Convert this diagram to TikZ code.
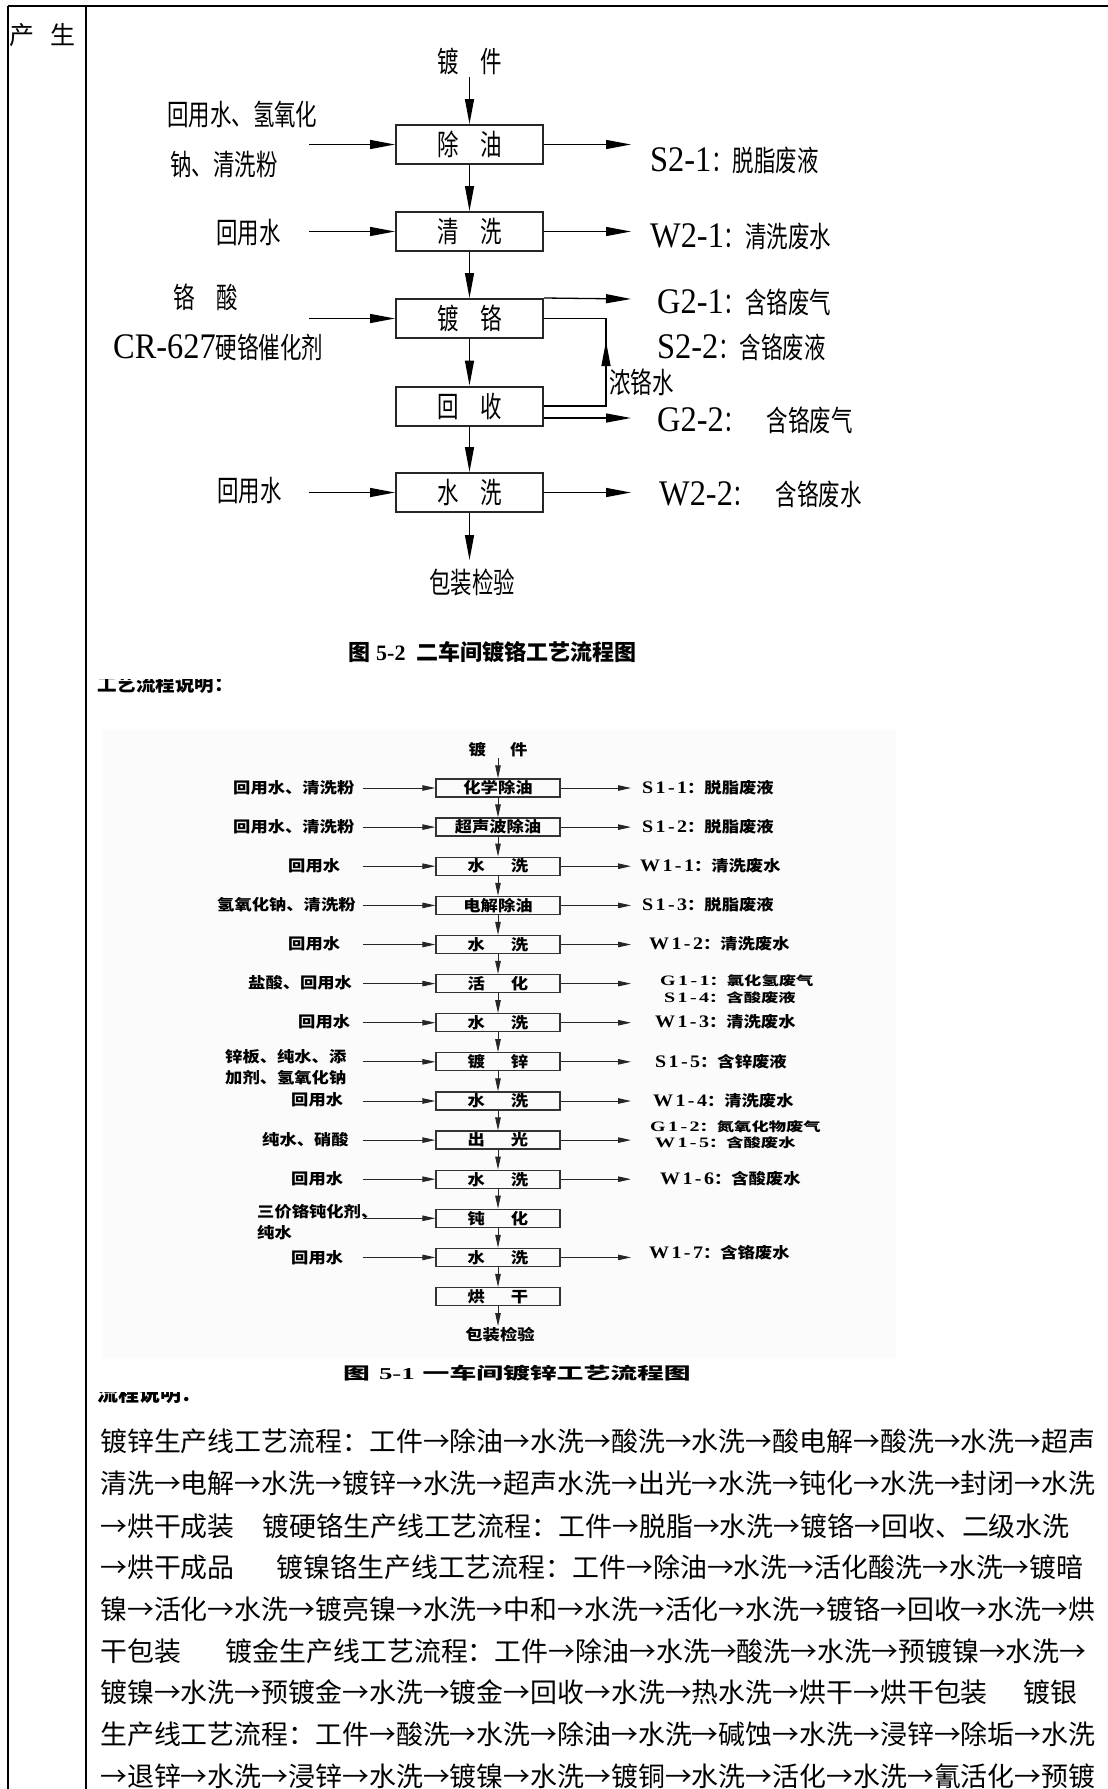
\documentclass[tikz,border=0pt]{standalone}
\usepackage{fontspec}
\usepackage{graphicx}
\usetikzlibrary{arrows.meta,decorations.markings}
\setmainfont{Noto Sans CJK SC}
\newfontfamily\tms{Liberation Serif}
\newfontfamily\tmsw{Liberation Serif}[LetterSpace=12]
\newcommand\Tc[1]{\scalebox{0.74}[1]{\fontsize{29}{29}\selectfont #1}}
\newcommand\Tl[1]{\scalebox{0.9}[1]{\fontsize{36}{36}\selectfont\tms #1}}
\newcommand\Fc[1]{\scalebox{1}[0.88]{\fontsize{17.3}{17.3}\selectfont\bfseries #1}}
\newcommand\Fl[1]{\scalebox{1}[0.88]{\fontsize{20}{20}\selectfont\tmsw\bfseries #1}}
\newcommand\Fcs[1]{\scalebox{1}[0.72]{\fontsize{17.3}{17.3}\selectfont\bfseries #1}}
\newcommand\Fls[1]{\scalebox{1}[0.72]{\fontsize{20}{20}\selectfont\tmsw\bfseries #1}}
\tikzset{
  lab/.style={inner sep=0pt, anchor=base west},
  labc/.style={inner sep=0pt, anchor=base},
  boxa/.style={draw=black!85, line width=2pt, minimum width=147pt, minimum height=39pt, inner sep=0pt},
  arra/.style={-{Triangle[length=25pt,width=9pt]}, line width=1.3pt},
  boxb/.style={draw=black!80, line width=1.3pt, minimum width=124pt, minimum height=18pt, inner sep=0pt},
  arrb/.style={-{Triangle[length=13pt,width=5.5pt]}, line width=0.9pt, draw=black!85},
  body/.style={inner sep=0pt, anchor=base west, font=\fontsize{26.9}{26.9}\selectfont},
}
\begin{document}
\begin{tikzpicture}[x=1pt,y=-1pt]
\useasboundingbox (0,0) rectangle (1108,1789);
% table frame
\draw[line width=2pt] (8,6) -- (1108,6);
\draw[line width=1.4pt] (8,6) -- (8,1789);
\draw[line width=1.2pt] (86,6) -- (86,1789);
\node[lab] (cs) at (9,44) {\fontsize{25}{25}\selectfont 产\hspace{16pt}生};

% ---------------- Fig 5-2 ----------------
\node[labc] (jja) at (470,72) {\Tc{镀　件}};
\node[boxa] (a) at (469.5,144.5) {\Tc{除　油}};
\node[boxa] (b) at (469.5,231.5) {\Tc{清　洗}};
\node[boxa] (c) at (469.5,318.5) {\Tc{镀　铬}};
\node[boxa] (d) at (469.5,406) {\Tc{回　收}};
\node[boxa] (e) at (469.5,492.5) {\Tc{水　洗}};
\coordinate (jjs) at (469.5,77);
\draw[arra] (jjs) -- (a.north);
\draw[arra] (a.south) -- (b.north);
\draw[arra] (b.south) -- (c.north);
\draw[arra] (c.south) -- (d.north);
\draw[arra] (d.south) -- (e.north);
\coordinate (bze) at (469.5,560);
\draw[arra] (e.south) -- (bze);
\node[labc] (bza) at (472,593) {\Tc{包装检验}};

% inputs
\node[lab] (la1) at (167,125) {\Tc{回用水、氢氧化}};
\node[lab] (la2) at (170,175) {\Tc{钠、清洗粉}};
\coordinate (ia) at (309,144.5);
\draw[arra] (ia) -- (a.west);
\node[lab] (lb) at (216,243) {\Tc{回用水}};
\coordinate (ib) at (309,231.5);
\draw[arra] (ib) -- (b.west);
\node[lab] (lc1) at (173,308) {\Tc{铬　酸}};
\node[lab] (lc2) at (113,358) {\Tl{CR-627}\Tc{硬铬催化剂}};
\coordinate (ic) at (309,318.5);
\draw[arra] (ic) -- (c.west);
\node[lab] (le) at (217,501) {\Tc{回用水}};
\coordinate (ie) at (309,492.5);
\draw[arra] (ie) -- (e.west);

% outputs
\coordinate (oa) at (631,144.5);
\draw[arra] (a.east) -- (oa);
\node[lab] (ra) at (650,171) {\Tl{S2-1}\Tc{：脱脂废液}};
\coordinate (ob) at (631,231.5);
\draw[arra] (b.east) -- (ob);
\node[lab] (rb) at (650,247) {\Tl{W2-1}\Tc{：清洗废水}};
\coordinate (oc) at (631,299);
\draw[arra] (c.north east) -- (oc);
\node[lab] (rc1) at (657,313) {\Tl{G2-1}\Tc{：含铬废气}};
\node[lab] (rc2) at (657,358) {\Tl{S2-2}\Tc{：含铬废液}};
\coordinate (rt) at (606,406);
\draw[line width=1.3pt, postaction={decorate}, decoration={markings, mark=at position 0.6 with {\arrow{Triangle[length=25pt,width=9pt]}}}]
  (d.east) -- (rt) -- (rt |- c.east) -- (c.east);
\node[lab] (nl) at (609,393) {\Tc{浓铬水}};
\coordinate (od) at (631,418);
\draw[arra] (od -| d.east) -- (od);
\node[lab] (rd) at (657,431) {\Tl{G2-2}\Tc{：　含铬废气}};
\coordinate (oe) at (631,492.5);
\draw[arra] (e.east) -- (oe);
\node[lab] (re) at (659,505) {\Tl{W2-2}\Tc{：　含铬废水}};

% caption 5-2
\node[lab] (cap2) at (348,660) {\fontsize{22}{22}\selectfont\bfseries 图\hspace{6pt}{\tms 5-2}\hspace{11pt}二车间镀铬工艺流程图};

% clipped heading
\begin{scope}
\clip (90,679) rectangle (300,700);
\node[lab] (hd1) at (97,691.5) {\fontsize{19.5}{19.5}\selectfont\bfseries 工艺流程说明：};
\end{scope}

% ---------------- Fig 5-1 ----------------
\fill[black!1.5] (103,730) rectangle (896,1358);
\node[labc] (jjb) at (498,755) {\Fc{镀\hspace{24pt}件}};
\node[boxb] (f0) at (498,788) {\Fc{化学除油}};
\node[boxb] (f1) at (498,827.1) {\Fc{超声波除油}};
\node[boxb] (f2) at (498,866.2) {\Fc{水\hspace{26pt}洗}};
\node[boxb] (f3) at (498,905.4) {\Fc{电解除油}};
\node[boxb] (f4) at (498,944.5) {\Fc{水\hspace{26pt}洗}};
\node[boxb] (f5) at (498,983.6) {\Fc{活\hspace{26pt}化}};
\node[boxb] (f6) at (498,1022.7) {\Fc{水\hspace{26pt}洗}};
\node[boxb] (f7) at (498,1061.8) {\Fc{镀\hspace{26pt}锌}};
\node[boxb] (f8) at (498,1101) {\Fc{水\hspace{26pt}洗}};
\node[boxb] (f9) at (498,1140.1) {\Fc{出\hspace{26pt}光}};
\node[boxb] (f10) at (498,1179.2) {\Fc{水\hspace{26pt}洗}};
\node[boxb] (f11) at (498,1218.3) {\Fc{钝\hspace{26pt}化}};
\node[boxb] (f12) at (498,1257.4) {\Fc{水\hspace{26pt}洗}};
\node[boxb] (f13) at (498,1296.6) {\Fc{烘\hspace{26pt}干}};
\coordinate (jjbs) at (498,758);
\draw[arrb] (jjbs) -- (f0.north);
\foreach \i [evaluate=\i as \j using int(\i+1)] in {0,...,12}
  \draw[arrb] (f\i.south) -- (f\j.north);
\coordinate (bzbe) at (498,1326);
\draw[arrb] (f13.south) -- (bzbe);
\node[labc] (bzb) at (500,1340) {\Fc{包装检验}};

% left inputs
\foreach \i in {0,...,12}
  \draw[arrb] (f\i.west -| 363,0) -- (f\i.west);
\node[lab] (fl0) at (233,793) {\Fc{回用水、清洗粉}};
\node[lab] (fl1) at (233,832) {\Fc{回用水、清洗粉}};
\node[lab] (fl2) at (288,871) {\Fc{回用水}};
\node[lab] (fl3) at (217,910) {\Fc{氢氧化钠、清洗粉}};
\node[lab] (fl4) at (288,949.5) {\Fc{回用水}};
\node[lab] (fl5) at (248,988.5) {\Fc{盐酸、回用水}};
\node[lab] (fl6) at (298,1027.5) {\Fc{回用水}};
\node[lab] (fl7a) at (225,1062) {\Fc{锌板、纯水、添}};
\node[lab] (fl7b) at (225,1083) {\Fc{加剂、氢氧化钠}};
\node[lab] (fl8) at (291,1105.5) {\Fc{回用水}};
\node[lab] (fl9) at (262,1145) {\Fc{纯水、硝酸}};
\node[lab] (fl10) at (291,1184.5) {\Fc{回用水}};
\node[lab] (fl11a) at (257,1217) {\Fc{三价铬钝化剂、}};
\node[lab] (fl11b) at (257,1238) {\Fc{纯水}};
\node[lab] (fl12) at (291,1263) {\Fc{回用水}};

% right outputs
\foreach \i in {0,1,2,3,4,5,6,7,8,9,10,12}
  \draw[arrb] (f\i.east) -- (f\i.east -| 631,0);
\node[lab] (fr0) at (642,793) {\Fl{S1-1}\Fc{：脱脂废液}};
\node[lab] (fr1) at (642,832) {\Fl{S1-2}\Fc{：脱脂废液}};
\node[lab] (fr2) at (640,871) {\Fl{W1-1}\Fc{：清洗废水}};
\node[lab] (fr3) at (642,910) {\Fl{S1-3}\Fc{：脱脂废液}};
\node[lab] (fr4) at (649,949.5) {\Fl{W1-2}\Fc{：清洗废水}};
\node[lab] (fr5a) at (660,985) {\Fls{G1-1}\Fcs{：氯化氢废气}};
\node[lab] (fr5b) at (664,1002) {\Fls{S1-4}\Fcs{：含酸废液}};
\node[lab] (fr6) at (655,1027.5) {\Fl{W1-3}\Fc{：清洗废水}};
\node[lab] (fr7) at (655,1067) {\Fl{S1-5}\Fc{：含锌废液}};
\node[lab] (fr8) at (653,1106) {\Fl{W1-4}\Fc{：清洗废水}};
\node[lab] (fr9a) at (650,1131) {\Fls{G1-2}\Fcs{：氮氧化物废气}};
\node[lab] (fr9b) at (655,1147.5) {\Fls{W1-5}\Fcs{：含酸废水}};
\node[lab] (fr10) at (660,1184.5) {\Fl{W1-6}\Fc{：含酸废水}};
\node[lab] (fr12) at (649,1258) {\Fl{W1-7}\Fc{：含铬废水}};

% caption 5-1
\node[lab] (cap1) at (343,1379) {\scalebox{1}[0.62]{\fontsize{26.8}{26.8}\selectfont\bfseries 图\hspace{9pt}{\tms 5-1}\hspace{8pt}一车间镀锌工艺流程图}};

\begin{scope}
\clip (90,1392) rectangle (300,1410);
\node[lab] (hd2) at (97,1401) {\fontsize{21}{21}\selectfont\bfseries 流程说明：};
\end{scope}

% ---------------- body text ----------------
\node[body] (t1) at (100,1451) {镀锌生产线工艺流程：工件→除油→水洗→酸洗→水洗→酸电解→酸洗→水洗→超声};
\node[body] (t2) at (100,1493) {清洗→电解→水洗→镀锌→水洗→超声水洗→出光→水洗→钝化→水洗→封闭→水洗};
\node[body] (t3) at (100,1536) {→烘干成装\hspace{28pt}镀硬铬生产线工艺流程：工件→脱脂→水洗→镀铬→回收、二级水洗};
\node[body] (t4) at (100,1577) {→烘干成品\hspace{42pt}镀镍铬生产线工艺流程：工件→除油→水洗→活化酸洗→水洗→镀暗};
\node[body] (t5) at (100,1619) {镍→活化→水洗→镀亮镍→水洗→中和→水洗→活化→水洗→镀铬→回收→水洗→烘};
\node[body] (t6) at (100,1661) {干包装\hspace{45pt}镀金生产线工艺流程：工件→除油→水洗→酸洗→水洗→预镀镍→水洗→};
\node[body] (t7) at (100,1702) {镀镍→水洗→预镀金→水洗→镀金→回收→水洗→热水洗→烘干→烘干包装\hspace{36pt}镀银};
\node[body] (t8) at (100,1744) {生产线工艺流程：工件→酸洗→水洗→除油→水洗→碱蚀→水洗→浸锌→除垢→水洗};
\node[body] (t9) at (100,1786) {→退锌→水洗→浸锌→水洗→镀镍→水洗→镀铜→水洗→活化→水洗→氰活化→预镀};
\end{tikzpicture}
\end{document}
